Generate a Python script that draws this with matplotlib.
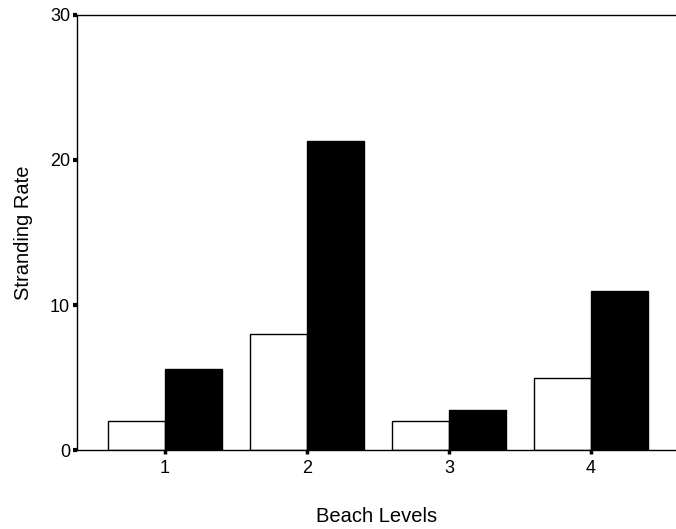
import numpy as np
import matplotlib
matplotlib.use("Agg")
from matplotlib import pyplot as plt

plt.rcParams['font.family'] = ['Liberation Sans', 'DejaVu Sans']

levels = [1, 2, 3, 4]
white_vals = [2.0, 8.0, 2.0, 5.0]
black_vals = [5.6, 21.3, 2.8, 11.0]
y_ticks = [0, 10, 20, 30]

fig = plt.figure(figsize=(6.76, 5.29), dpi=100)
ax = fig.add_axes([0.114, 0.149, 0.886, 0.823])

x = np.array(levels, dtype=float)
w = 0.4
ax.bar(x - w / 2, white_vals, width=w, color="white", edgecolor="black", linewidth=1.0)
ax.bar(x + w / 2, black_vals, width=w, color="black", edgecolor="black", linewidth=1.0)

ax.set_xlim(0.38, 4.6)
ax.set_ylim(0, 30)
ax.set_xticks(levels)
ax.set_yticks(y_ticks)
ax.tick_params(axis="y", direction="out", length=3, width=3, pad=2, labelsize=13)
ax.tick_params(axis="x", direction="out", length=3, width=2.5, pad=4, labelsize=13)

ax.spines["right"].set_visible(False)
for s in ["left", "bottom", "top"]:
    ax.spines[s].set_linewidth(1.0)

ax.set_xlabel("Beach Levels", fontsize=14.5, labelpad=22)
ax.set_ylabel("Stranding Rate", fontsize=14.5, labelpad=12)

fig.savefig("out.png", dpi=100)
